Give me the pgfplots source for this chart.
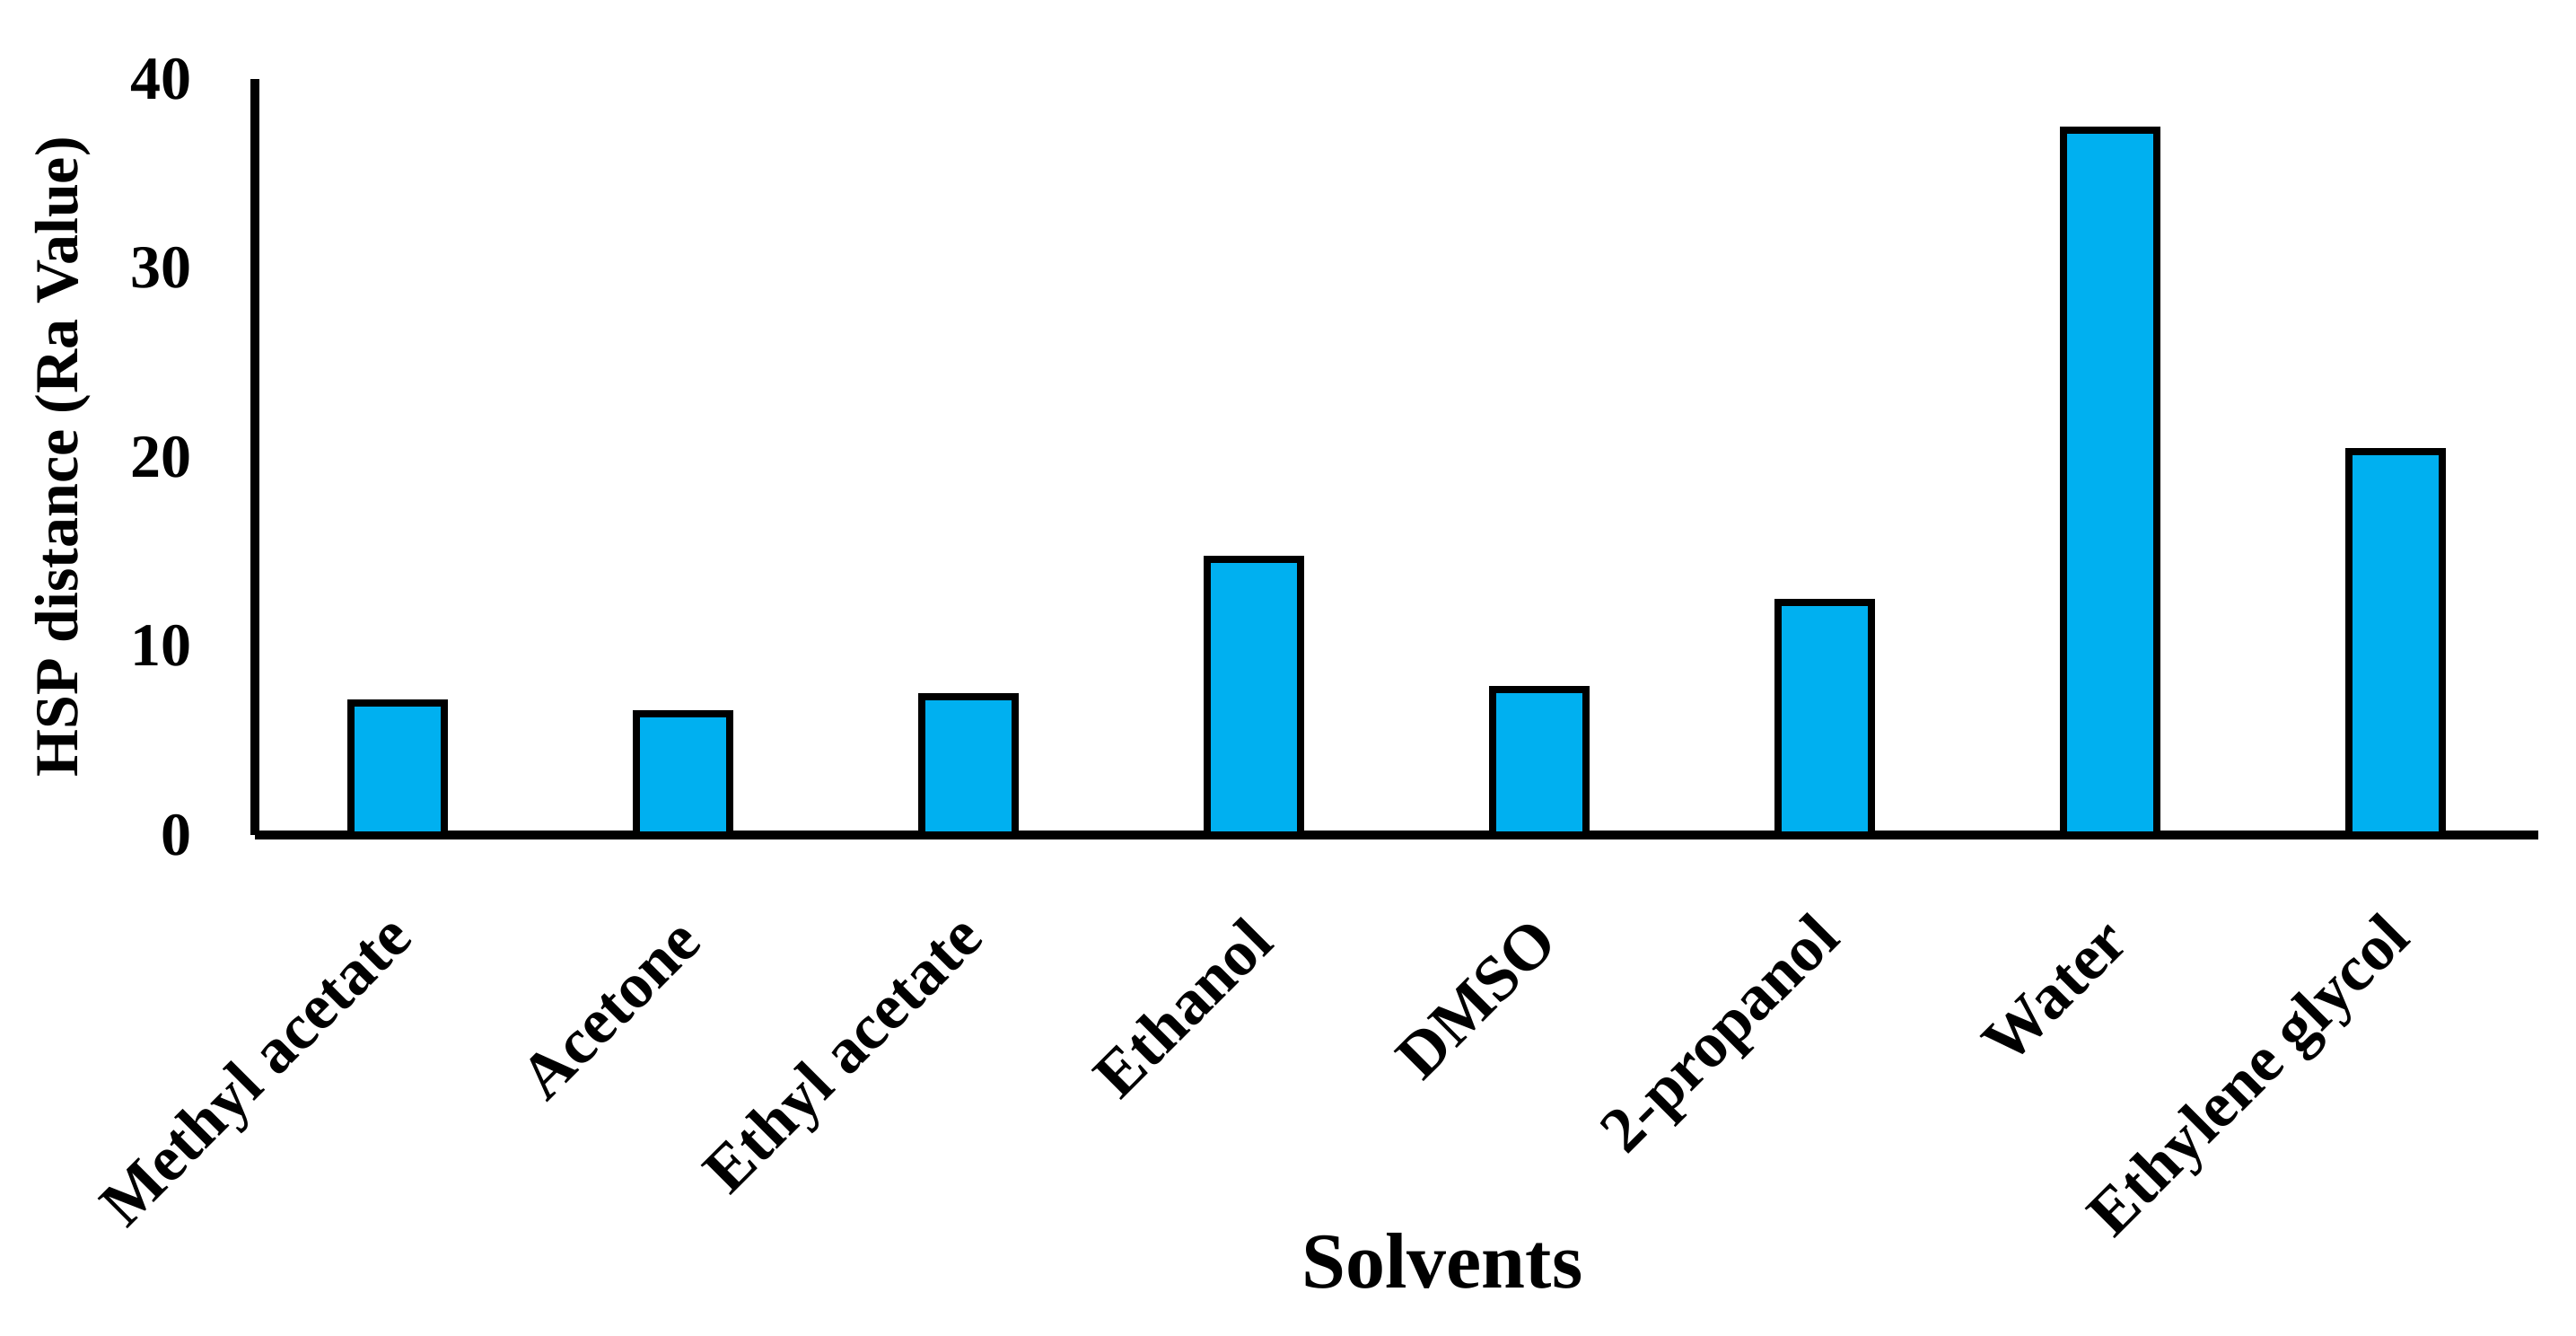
\documentclass[border=0pt]{standalone}
\usepackage{pgfplots}
\pgfplotsset{compat=1.18}
\usepackage{fontspec}
\setmainfont{Liberation Serif}
\definecolor{barblue}{HTML}{00B0F0}
\begin{document}
\begin{tikzpicture}
\path[use as bounding box] (0,0) rectangle (717.5pt,372pt);
\begin{axis}[
    at={(71pt,139.5pt)}, anchor=south west,
    scale only axis, width=636pt, height=210.5pt,
    xmin=-0.5, xmax=7.5, ymin=0, ymax=40,
    axis x line=bottom, axis y line=left,
    axis line style={-, line width=2.4pt},
    major tick length=0pt,
    xtick={0,...,7},
    xticklabels={Methyl acetate, Acetone, Ethyl acetate, Ethanol, DMSO, 2-propanol, Water, Ethylene glycol},
    ytick={0,10,20,30,40},
    /pgf/number format/assume math mode=true,
    tick label style={font=\bfseries\fontsize{17}{17}\selectfont},
    xticklabel style={font=\bfseries\fontsize{18}{18}\selectfont, rotate=45, anchor=east, yshift=-20pt, xshift=-14pt},
    yticklabel style={xshift=-14pt},
    xlabel={Solvents},
    xlabel style={font=\bfseries\fontsize{22}{22}\selectfont, at={(axis description cs:0.52,-0.563)}, anchor=center},
    ylabel={HSP distance (Ra Value)},
    ylabel style={font=\bfseries\fontsize{17}{17}\selectfont, at={(axis description cs:-0.084,0.5)}, anchor=center},
]
\addplot[ybar, bar width=0.33, fill=barblue, draw=black, line width=2pt]
    coordinates {(0,7.0)(1,6.4)(2,7.3)(3,14.6)(4,7.7)(5,12.3)(6,37.3)(7,20.3)};
\end{axis}
\end{tikzpicture}
\end{document}
